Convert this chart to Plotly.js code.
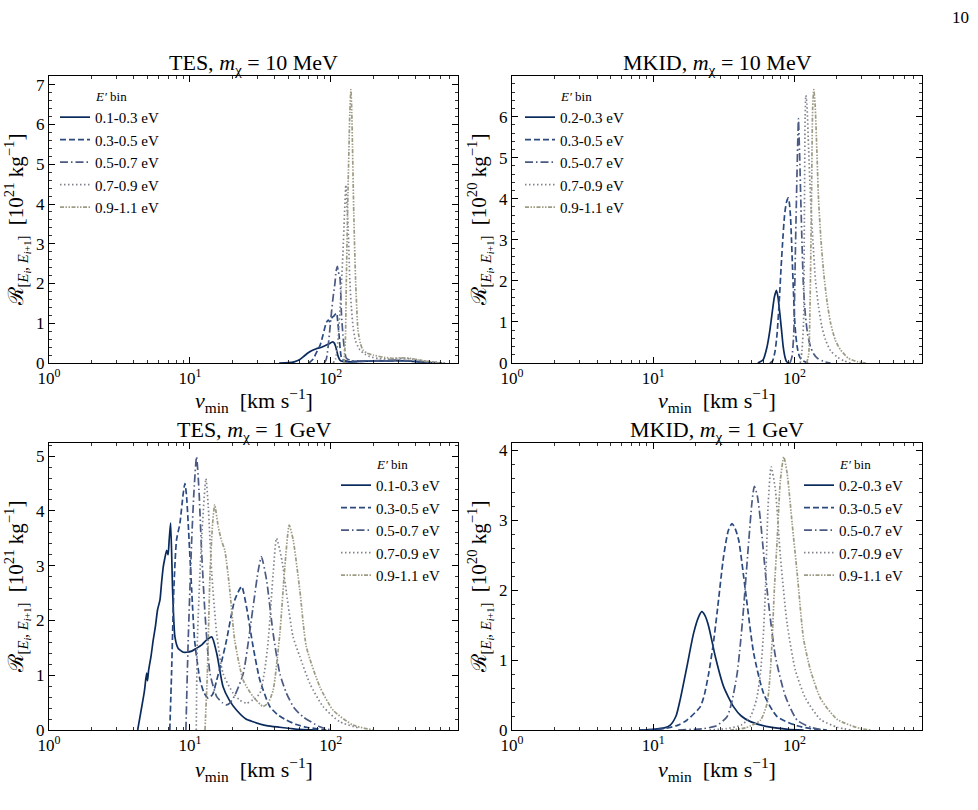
<!DOCTYPE html>
<html><head><meta charset="utf-8">
<script src="https://cdn.plot.ly/plotly-3.0.1.min.js"></script>
<style>html,body{margin:0;padding:0;background:#fff}#plot{width:978px;height:810px}</style>
</head><body><div id="plot"></div>
<script>
// ---------- DATA ----------
const binsTES = ["0.1-0.3 eV","0.3-0.5 eV","0.5-0.7 eV","0.7-0.9 eV","0.9-1.1 eV"];
const binsMKID = ["0.2-0.3 eV","0.3-0.5 eV","0.5-0.7 eV","0.7-0.9 eV","0.9-1.1 eV"];

// TES, m_chi = 10 MeV  (units 1e21 /kg)
const tesMeV_v1 = [43,50,55,60,64,68,73,79,85,90,96,103,106,109,113,117,122,135,160,200,250,300,350,420,500,600];
const tesMeV_r1 = [0,0.01,0.03,0.08,0.16,0.24,0.31,0.36,0.39,0.43,0.47,0.53,0.50,0.38,0.16,0.06,0.04,0.03,0.04,0.05,0.05,0.06,0.05,0.03,0.01,0];
const tesMeV_v2 = [70,75,80,84,88,93,96,98,101,105,110,112,114.5,117,120,130,160,200,300,400,500,600];
const tesMeV_r2 = [0,0.1,0.3,0.45,0.7,1.02,1.08,1.04,1.12,1.18,1.25,1.05,0.7,0.3,0.1,0.05,0.04,0.05,0.06,0.04,0.02,0];
const tesMeV_v3 = [90,93,96,98.4,101,104,107,109,111.5,113,116,119,122,125,129,140,170,220,300,400,500,620];
const tesMeV_r3 = [0,0.1,0.45,0.83,1.25,1.67,2.0,2.3,2.43,2.3,2.17,1.25,0.7,0.35,0.12,0.06,0.05,0.06,0.07,0.05,0.02,0];
const tesMeV_v4 = [104,108,112,116,119,122,125,128,130,133,136.5,140,144,150,161,175,189,220,270,320,380,450,550,650];
const tesMeV_r4 = [0,0.1,0.5,1.26,2.0,2.76,3.7,4.48,4.0,3.35,2.09,1.4,0.91,0.55,0.33,0.22,0.16,0.11,0.1,0.12,0.1,0.06,0.02,0];
const tesMeV_v5 = [124,127,129,131,133,135,136.5,138,139,141,142.6,145.6,150,156,162,169,180,200,240,280,310,360,420,500,600];
const tesMeV_r5 = [0,0.6,2.09,3.4,4.61,5.6,6.29,6.7,6.88,6.3,5.45,3.77,2.09,0.83,0.5,0.33,0.25,0.2,0.14,0.12,0.13,0.12,0.08,0.03,0];

// MKID, m_chi = 10 MeV  (units 1e20 /kg)
const mkMeV_v1 = [55,60,64,67,69.5,72,74.5,76.5,78.7,81,83.2,86,88,92];
const mkMeV_r1 = [0,0.08,0.40,0.8,1.22,1.6,1.77,1.6,1.22,0.8,0.40,0.12,0.03,0];
const mkMeV_v2 = [67,70,73,75.4,78,80.5,83,85,87.5,90.2,92,93.7,95.3,96.8,98.5,100,102,104.5,107,110,115,125];
const mkMeV_r2 = [0,0.05,0.3,0.73,1.5,2.36,3.1,3.58,3.9,4.02,3.9,3.58,3.0,2.36,1.7,1.13,0.7,0.40,0.22,0.12,0.05,0];
const mkMeV_v3 = [93,96,98.9,100.3,101.6,103,104.5,105.7,106.7,107.8,109,111,113.4,116,119.7,124,129.8,137,145,160,180];
const mkMeV_r3 = [0,0.15,0.73,1.7,2.77,3.8,4.80,5.5,5.95,5.5,4.97,3.9,2.77,1.8,1.13,0.7,0.40,0.22,0.12,0.04,0];
const mkMeV_v4 = [110,113,116,117.5,119,120.5,122.5,126,130,135,141,148,156,166,180,200,225,250];
const mkMeV_r4 = [0,0.3,1.0,3.5,6.0,6.52,6.3,5.2,4.0,3.0,2.0,1.38,0.9,0.56,0.3,0.15,0.05,0];
const mkMeV_v5 = [122,126,129,132,134.5,137,140,144,148,154,161,170,180,195,212,240,279,320];
const mkMeV_r5 = [0,0.2,1.5,4.0,6.2,6.66,6.3,5.2,4.0,3.0,2.2,1.5,0.98,0.55,0.32,0.12,0.03,0];

// TES, m_chi = 1 GeV  (units 1e21 /kg)
const tesGeV_v1 = [4.26,4.5,4.75,4.93,5.0,5.1,5.3,5.49,5.7,5.9,6.13,6.3,6.47,6.6,6.84,7.0,7.13,7.3,7.54,7.83,8.26,9.0,9.47,10.3,11.1,12.2,13.1,14.3,15.5,17.2,19,21.4,25,28.1,35,43.5,60,80];
const tesGeV_r1 = [0,0.35,0.7,1.04,0.9,1.1,1.35,1.64,1.9,2.2,2.37,2.7,2.98,3.1,3.28,3.2,3.47,3.78,2.55,1.70,1.49,1.42,1.42,1.44,1.49,1.56,1.64,1.70,1.40,0.79,0.55,0.365,0.2,0.15,0.08,0.05,0.01,0];
const tesGeV_v2 = [7.2,7.41,7.7,8.04,8.49,8.97,9.22,9.45,9.73,10.3,10.8,11.8,12.6,13.5,14.5,15.5,16.8,18.2,20.8,23.3,25.2,28.1,31.4,36.9,42,48.5,57,67.3,93];
const tesGeV_r2 = [0,1.03,2.6,3.47,3.77,4.32,4.50,4.3,3.77,2.55,1.64,0.91,0.68,0.58,0.65,0.91,1.25,1.64,2.37,2.62,2.25,1.52,0.91,0.43,0.28,0.18,0.1,0.05,0];
const tesGeV_v3 = [9.37,9.73,10.3,10.7,11.15,11.6,12.1,12.8,13.9,15.5,17,18.2,19.2,21,23.9,28.1,30.5,32.2,35,39,43.5,48.5,55,63.6,83.6,100];
const tesGeV_r3 = [0,1.64,3.47,4.38,4.99,4.38,3.28,2.13,1.03,0.61,0.5,0.46,0.49,0.65,1.03,2.25,2.9,3.16,2.74,1.76,1.03,0.67,0.4,0.24,0.06,0];
const tesGeV_v4 = [11.1,11.3,12.1,13.0,13.5,14.3,15.5,17.2,20.3,22.5,25.2,28,31.4,34,36,39,41.2,45,48.5,54,60.3,71,88,116,161];
const tesGeV_r4 = [0,1.64,3.47,4.59,4.08,2.86,1.76,1.03,0.67,0.55,0.49,0.55,0.67,1.1,1.64,2.86,3.50,3.1,2.5,1.7,1.34,0.85,0.43,0.15,0.03];
const tesGeV_v5 = [12.8,13.3,13.9,14.5,15.0,15.9,16.8,17.7,19.2,20.8,23.9,28.1,33.1,36,39,43.5,47.2,50.7,54.1,60.3,67.1,83.6,104,144,200];
const tesGeV_r5 = [0,1.03,2.86,3.77,4.11,3.71,3.45,3.28,2.55,1.64,0.91,0.61,0.43,0.5,0.73,1.76,2.98,3.74,3.47,2.55,1.52,0.79,0.36,0.09,0];

// MKID, m_chi = 1 GeV  (units 1e20 /kg)
const mkGeV_v1 = [8,10,12,13.2,14.5,15.5,17.3,19.3,21,22.1,23.3,24.7,27.5,31.5,37.1,42,48.8,67.6,90,116];
const mkGeV_r1 = [0,0.01,0.03,0.07,0.2,0.43,0.90,1.38,1.62,1.69,1.63,1.48,1.05,0.62,0.33,0.2,0.12,0.04,0.01,0];
const mkGeV_v2 = [8,12,15,17.3,21.5,23,24.7,26.5,28.3,31.5,34,36.1,38,40.3,44.9,51.4,60.5,75.4,104.5,130,170];
const mkGeV_r2 = [0,0.02,0.07,0.14,0.33,0.5,0.81,1.2,1.67,2.48,2.85,2.95,2.88,2.71,2.0,1.10,0.52,0.19,0.06,0.02,0];
const mkGeV_v3 = [15,22.7,28,33.3,36,39.3,41.5,43.7,47.5,50,52,54.5,57.4,64,73.3,86.3,104.5,130,160];
const mkGeV_r3 = [0,0.02,0.06,0.19,0.4,0.81,1.25,1.76,2.71,3.25,3.48,3.35,3.0,2.0,1.05,0.48,0.14,0.04,0];
const mkGeV_v4 = [25,33,42,48.8,54,57.4,60,62.3,65,68.4,73.3,79.5,88.7,101.6,120,153,201,250];
const mkGeV_r4 = [0,0.02,0.07,0.19,0.45,0.81,1.3,2.0,3.19,3.76,3.43,2.48,1.52,0.85,0.45,0.15,0.04,0];
const mkGeV_v5 = [35,45,57.4,64,67,69.5,72,75.4,79.5,84,88.7,96.3,104.5,116,130,153,201,294,350];
const mkGeV_r5 = [0,0.03,0.14,0.38,0.75,1.29,2.0,2.71,3.57,3.90,3.67,2.95,2.24,1.3,0.85,0.45,0.15,0.02,0];

const xTickVals = [1,10,100];
const xTickText = ["10<sup>0</sup>","10<sup>1</sup>","10<sup>2</sup>"];

// ---------- STYLE ----------
const colors = ["#0b2a5c","#2b4a80","#4b5a82","#82828c","#9e9b84"];
const dashes = ["solid","6px,3px","8px,3px,1.5px,3px","1.5px,2.5px","4px,1.5px,1.5px,1.5px,1.5px,1.5px"];
const FONT = "Liberation Serif, DejaVu Serif, serif";

const panels = [
  {v:[tesMeV_v1,tesMeV_v2,tesMeV_v3,tesMeV_v4,tesMeV_v5], r:[tesMeV_r1,tesMeV_r2,tesMeV_r3,tesMeV_r4,tesMeV_r5], names:binsTES, ax:"", leg:"legend"},
  {v:[mkMeV_v1,mkMeV_v2,mkMeV_v3,mkMeV_v4,mkMeV_v5], r:[mkMeV_r1,mkMeV_r2,mkMeV_r3,mkMeV_r4,mkMeV_r5], names:binsMKID, ax:"2", leg:"legend2"},
  {v:[tesGeV_v1,tesGeV_v2,tesGeV_v3,tesGeV_v4,tesGeV_v5], r:[tesGeV_r1,tesGeV_r2,tesGeV_r3,tesGeV_r4,tesGeV_r5], names:binsTES, ax:"3", leg:"legend3"},
  {v:[mkGeV_v1,mkGeV_v2,mkGeV_v3,mkGeV_v4,mkGeV_v5], r:[mkGeV_r1,mkGeV_r2,mkGeV_r3,mkGeV_r4,mkGeV_r5], names:binsMKID, ax:"4", leg:"legend4"}
];

const traces = [];
panels.forEach(p => {
  for (let i = 0; i < 5; i++) {
    traces.push({
      type:"scatter", mode:"lines", x:p.v[i], y:p.r[i], name:p.names[i],
      xaxis:"x"+p.ax, yaxis:"y"+p.ax, legend:p.leg,
      line:{color:colors[i], width:1.7, dash:dashes[i], shape:"spline", smoothing:0.6}
    });
  }
});

const W = 978, H = 810;
const xDomL = [49/W, 458/W], xDomR = [512/W, 922/W];
const yDomT = [(H-363)/H, (H-76)/H], yDomB = [(H-730)/H, (H-443)/H];

const minorVals = [];
[1,10,100].forEach(d => { for (let k = 2; k <= 9; k++) minorVals.push(k*d); });

function xax(dom, anchor) {
  return {domain:dom, anchor:anchor, type:"log", range:[0, 2.903],
    tickvals:xTickVals, ticktext:xTickText, ticks:"inside", ticklen:6, tickwidth:1, tickcolor:"#000",
    minor:{tickvals:minorVals, ticks:"inside", ticklen:3, tickcolor:"#000", tickwidth:0.8},
    showline:true, linecolor:"#000", linewidth:1, mirror:"allticks", showgrid:false, zeroline:false,
    tickfont:{family:FONT, size:17, color:"#000"}};
}
function yax(dom, anchor, top, exp) {
  return {domain:dom, anchor:anchor, range:[0, top], dtick:1, tick0:0,
    ticks:"inside", ticklen:6, tickwidth:1, tickcolor:"#000",
    minor:{dtick:0.2, ticks:"inside", ticklen:3, tickcolor:"#000", tickwidth:0.8},
    showline:true, linecolor:"#000", linewidth:1, mirror:"allticks", showgrid:false, zeroline:false,
    tickfont:{family:FONT, size:17, color:"#000"},
    title:{text:"ℛ<sub>[<i>E<sub>i</sub></i>, <i>E</i><sub><i>i</i>+1</sub>]</sub>  [10<sup>"+exp+"</sup> kg<sup>−1</sup>]", font:{family:FONT, size:21, color:"#000"}, standoff:6}};
}
function leg(x, y) {
  return {x:x, y:y, xanchor:"left", yanchor:"top", bgcolor:"rgba(0,0,0,0)", borderwidth:0,
    font:{family:FONT, size:15, color:"#000"}, tracegroupgap:0, itemwidth:30,
    title:{text:"            <i>E′</i> bin", font:{family:FONT, size:13, color:"#000"}}};
}
function ttl(text, xd, ypx, size) {
  return {text:text, x:(xd[0]+xd[1])/2, y:(H-ypx)/H, xref:"paper", yref:"paper", xanchor:"center", yanchor:"middle",
    showarrow:false, font:{family:FONT,size:size,color:"#000"}};
}
const xTitle = "<i>v</i><sub>min</sub>  [km s<sup>−1</sup>]";

const layout = {
  width:W, height:H, margin:{l:0,r:0,t:0,b:0}, paper_bgcolor:"#fff", plot_bgcolor:"#fff",
  showlegend:true,
  xaxis:xax(xDomL,"y"), yaxis:yax(yDomT,"x",7.22,"21"),
  xaxis2:xax(xDomR,"y2"), yaxis2:yax(yDomT,"x2",6.99,"20"),
  xaxis3:xax(xDomL,"y3"), yaxis3:yax(yDomB,"x3",5.24,"21"),
  xaxis4:xax(xDomR,"y4"), yaxis4:yax(yDomB,"x4",4.1,"20"),
  legend:leg(55/W, (H-84)/H),
  legend2:leg(520/W, (H-84)/H),
  legend3:leg(336/W, (H-452)/H),
  legend4:leg(799/W, (H-452)/H),
  annotations:[
    ttl("TES, <i>m</i><sub>χ</sub> = 10 MeV", xDomL, 64, 22),
    ttl("MKID, <i>m</i><sub>χ</sub> = 10 MeV", xDomR, 64, 22),
    ttl("TES, <i>m</i><sub>χ</sub> = 1 GeV", xDomL, 431, 22),
    ttl("MKID, <i>m</i><sub>χ</sub> = 1 GeV", xDomR, 431, 22),
    ttl(xTitle, xDomL, 400, 22),
    ttl(xTitle, xDomR, 400, 22),
    ttl(xTitle, xDomL, 769, 22),
    ttl(xTitle, xDomR, 769, 22),
    {text:"10", x:960/W, y:(H-17)/H, xref:"paper", yref:"paper", xanchor:"center", yanchor:"middle", showarrow:false, font:{family:FONT,size:17,color:"#000"}}
  ]
};

Plotly.newPlot("plot", traces, layout, {staticPlot:true, displayModeBar:false});
</script></body></html>
